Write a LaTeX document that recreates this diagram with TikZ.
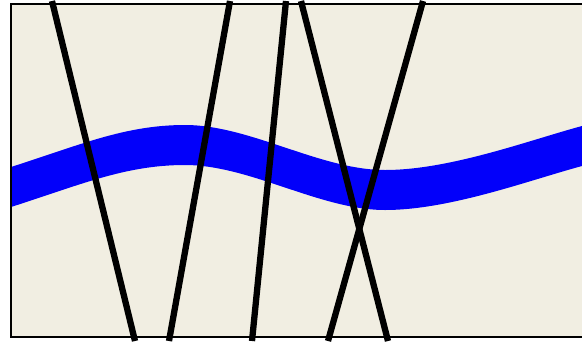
\documentclass[tikz,border=0pt]{standalone}
\definecolor{bgcream}{RGB}{241,238,226}
\definecolor{bandblue}{RGB}{2,0,250}
\begin{document}
\begin{tikzpicture}[x=1pt,y=-1pt,
  barline/.style={line width=6.3pt,black},
  framel/.style={line width=2.5pt,black}]
\useasboundingbox (0,0) rectangle (582,341);
\fill[white] (0,0) rectangle (582,341);
\fill[bgcream] (11,4) rectangle (582,337);
% wavy band
\fill[bandblue] (11,167) .. controls (80,145) and (125,125) .. (185,125)
  .. controls (250,125) and (320,170) .. (385,170)
  .. controls (450,170) and (530,140) .. (582,126)
  -- (582,166)
  .. controls (530,180) and (450,210) .. (385,210)
  .. controls (320,210) and (250,165) .. (185,165)
  .. controls (125,165) and (80,185) .. (11,207) -- cycle;
% crossing lines
\coordinate (a1) at (52,1);   \coordinate (b1) at (135,341);
\coordinate (a2) at (230,1);  \coordinate (b2) at (169,341);
\coordinate (a3) at (286,1);  \coordinate (b3) at (252,341);
\coordinate (a4) at (301,1);  \coordinate (b4) at (388,341);
\coordinate (a5) at (423,1);  \coordinate (b5) at (328,341);
\draw[barline] (a1) -- (b1);
\draw[barline] (a2) -- (b2);
\draw[barline] (a3) -- (b3);
\draw[barline] (a4) -- (b4);
\draw[barline] (a5) -- (b5);
% frame
\draw[framel] (582,4) -- (11,4) -- (11,337) -- (582,337);
\end{tikzpicture}
\end{document}
